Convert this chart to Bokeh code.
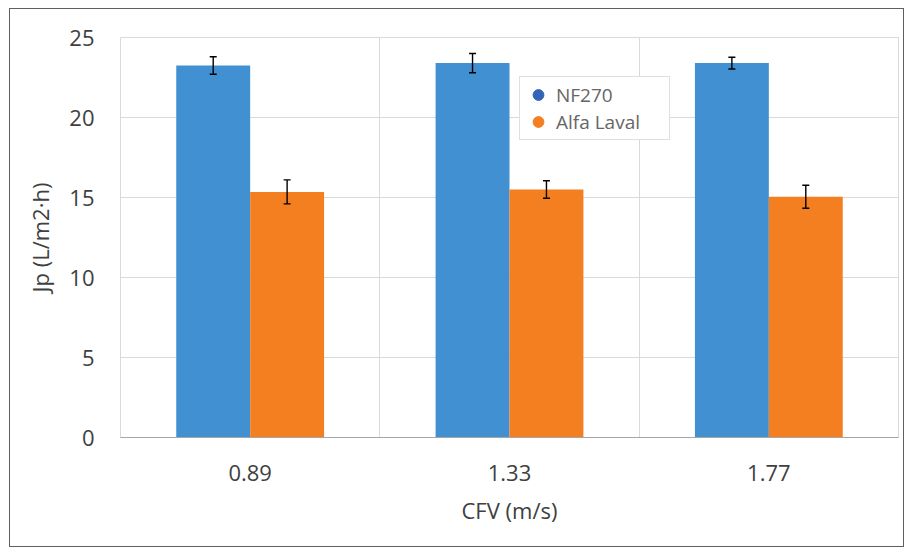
from bokeh.plotting import figure
from bokeh.models import ColumnDataSource, Whisker, FixedTicker, Legend, LegendItem, TeeHead, Range1d
from bokeh.embed import file_html
from bokeh.resources import INLINE

# ---- data ----
categories = ["0.89", "1.33", "1.77"]
series = ["NF270", "Alfa Laval"]
nf270 = [23.25, 23.4, 23.4]
nf270_err = [0.55, 0.6, 0.37]
alfa = [15.35, 15.5, 15.05]
alfa_err = [0.75, 0.55, 0.72]
y_ticks = [0, 5, 10, 15, 20, 25]

BLUE = "#4190d2"
ORANGE = "#f47f20"
LEG_BLUE = "#3464b8"
FONT = "Open Sans"
BAR_W = 0.285

xc = [i + 0.5 for i in range(len(categories))]
src = ColumnDataSource(dict(
    x_nf=[x - BAR_W / 2 for x in xc],
    x_al=[x + BAR_W / 2 for x in xc],
    nf=nf270,
    nf_lo=[v - e for v, e in zip(nf270, nf270_err)],
    nf_hi=[v + e for v, e in zip(nf270, nf270_err)],
    al=alfa,
    al_lo=[v - e for v, e in zip(alfa, alfa_err)],
    al_hi=[v + e for v, e in zip(alfa, alfa_err)],
))

p = figure(width=895, height=539, output_backend="svg", toolbar_location=None,
           x_range=Range1d(0, len(categories)), y_range=Range1d(0, 25),
           min_border_left=110, min_border_right=7, min_border_top=28, min_border_bottom=111)
p.styles = {"border": "1px solid #5f5f5f", "margin": "8px 0 0 9px"}
p.background_fill_color = "white"
p.border_fill_color = "white"
p.outline_line_color = "#d9d9d9"

p.vbar(x="x_nf", top="nf", bottom=0, width=BAR_W, source=src, fill_color=BLUE, line_color=None)
p.vbar(x="x_al", top="al", bottom=0, width=BAR_W, source=src, fill_color=ORANGE, line_color=None)

for base, lo, hi in (("x_nf", "nf_lo", "nf_hi"), ("x_al", "al_lo", "al_hi")):
    w = Whisker(source=src, base=base, lower=lo, upper=hi, dimension="height",
                line_color="black", line_width=1.4, level="overlay",
                lower_head=TeeHead(size=7, line_color="black", line_width=1.4),
                upper_head=TeeHead(size=7, line_color="black", line_width=1.4))
    p.add_layout(w)

# legend proxies (not drawn: NaN position)
nan = float("nan")
r1 = p.scatter(x=[nan], y=[nan], marker="circle", size=9, fill_color=LEG_BLUE, line_color=LEG_BLUE)
r2 = p.scatter(x=[nan], y=[nan], marker="circle", size=9, fill_color=ORANGE, line_color=ORANGE)
legend = Legend(items=[LegendItem(label=series[0], renderers=[r1], index=0),
                       LegendItem(label=series[1], renderers=[r2], index=0)],
                location=(399, 297), orientation="vertical",
                padding=4, spacing=0, glyph_width=28, glyph_height=27,
                label_height=27, label_width=109, label_standoff=4, margin=0,
                border_line_color="#bfbfbf", border_line_width=1.5,
                background_fill_color="white", background_fill_alpha=1,
                label_text_font=FONT, label_text_font_size="19px", label_text_color="#666666")
p.add_layout(legend, "center")

# grids
p.ygrid.ticker = FixedTicker(ticks=y_ticks)
p.ygrid.grid_line_color = "#d9d9d9"
p.xgrid.ticker = FixedTicker(ticks=[i for i in range(1, len(categories))])
p.xgrid.grid_line_color = "#d9d9d9"

# axes
p.xaxis.ticker = FixedTicker(ticks=xc)
p.xaxis.major_label_overrides = {x: c for x, c in zip(xc, categories)}
p.yaxis.ticker = FixedTicker(ticks=y_ticks)
for ax in (p.xaxis[0], p.yaxis[0]):
    ax.major_tick_line_color = None
    ax.minor_tick_line_color = None
    ax.major_label_text_font = FONT
    ax.major_label_text_font_size = "22px"
    ax.major_label_text_color = "#404040"
    ax.axis_label_text_font = FONT
    ax.axis_label_text_font_size = "22px"
    ax.axis_label_text_font_style = "normal"
    ax.axis_label_text_color = "#404040"
p.xaxis.axis_line_color = "#a6a6a6"
p.yaxis.axis_line_color = None
p.xaxis.axis_label = "CFV (m/s)"
p.yaxis.axis_label = "Jp (L/m2·h)"
p.xaxis.major_label_standoff = 21
p.xaxis.axis_label_standoff = 11
p.yaxis.major_label_standoff = 20
p.yaxis.axis_label_standoff = 11

open("out.html", "w").write(file_html(p, INLINE))
